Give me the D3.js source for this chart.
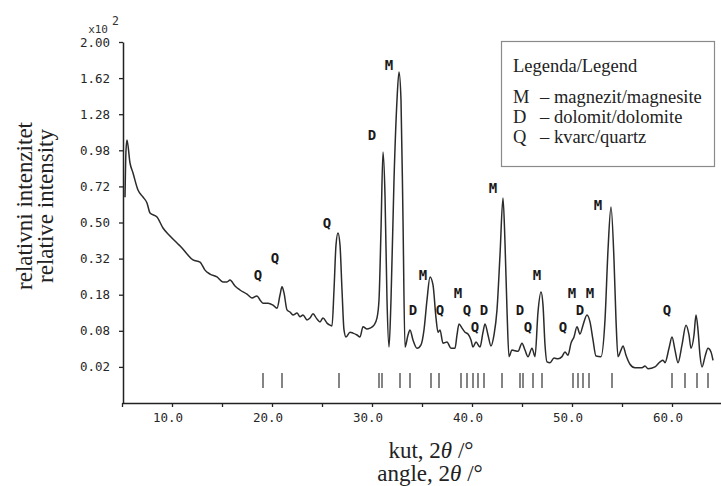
<!DOCTYPE html>
<html><head><meta charset="utf-8">
<script src="https://cdn.jsdelivr.net/npm/d3@7"></script>
<style>
html,body{margin:0;padding:0;background:#fff;}
svg{display:block;}
</style></head>
<body>
<svg id="chart" width="721" height="486"></svg>
<script>
// ---- data (2θ in degrees, relative intensity ×10²) ----
const twoTheta = [5.3,5.4,5.5,5.8,6.1,6.6,7.1,7.5,7.8,8.5,9.1,9.8,10.5,11.0,11.5,12.1,12.8,13.3,13.8,14.5,15.1,15.5,15.8,16.3,16.8,17.5,18.0,18.5,18.8,19.1,19.6,20.1,20.5,20.8,21.0,21.2,21.5,21.8,22.1,22.5,22.8,23.1,23.5,23.8,24.1,24.5,24.8,25.1,25.5,25.8,26.0,26.2,26.4,26.6,26.8,27.0,27.2,27.4,27.8,28.1,28.5,28.8,29.1,29.5,29.8,30.2,30.5,30.7,30.9,31.1,31.3,31.5,31.7,31.9,32.2,32.5,32.7,32.9,33.1,33.3,33.6,33.8,34.1,34.5,34.9,35.2,35.5,35.8,36.1,36.4,36.6,36.8,37.1,37.5,37.9,38.3,38.5,38.7,39.0,39.3,39.6,39.9,40.1,40.4,40.8,41.1,41.3,41.6,41.9,42.2,42.5,42.8,43.1,43.3,43.5,43.7,44.0,44.3,44.6,45.0,45.3,45.6,46.0,46.3,46.6,46.9,47.1,47.3,47.5,47.8,48.2,48.6,49.0,49.3,49.6,49.9,50.2,50.5,50.8,51.1,51.5,51.8,52.1,52.4,52.9,53.3,53.6,53.9,54.2,54.4,54.6,54.9,55.1,55.4,55.8,56.3,57.0,57.3,57.6,58.3,58.8,59.1,59.3,59.7,60.0,60.3,60.6,61.0,61.4,61.7,61.9,62.2,62.4,62.6,62.8,63.0,63.3,63.6,63.9,64.1];
const intensity = [0.65,0.98,1.061,0.884,0.812,0.696,0.651,0.614,0.554,0.531,0.470,0.428,0.393,0.369,0.341,0.314,0.305,0.271,0.255,0.244,0.225,0.225,0.232,0.210,0.196,0.182,0.169,0.176,0.163,0.153,0.153,0.147,0.138,0.179,0.207,0.186,0.133,0.127,0.119,0.124,0.114,0.119,0.106,0.111,0.122,0.108,0.101,0.111,0.098,0.093,0.091,0.196,0.383,0.443,0.383,0.196,0.082,0.067,0.077,0.075,0.071,0.067,0.089,0.084,0.086,0.093,0.111,0.163,0.459,0.967,0.664,0.163,0.048,0.163,0.763,1.409,1.681,1.409,0.514,0.048,0.071,0.082,0.061,0.046,0.052,0.082,0.163,0.244,0.214,0.111,0.077,0.082,0.055,0.057,0.046,0.046,0.071,0.096,0.086,0.077,0.073,0.061,0.048,0.057,0.048,0.077,0.096,0.071,0.050,0.071,0.133,0.336,0.645,0.393,0.133,0.033,0.043,0.042,0.041,0.055,0.043,0.033,0.046,0.033,0.127,0.189,0.147,0.052,0.026,0.025,0.031,0.030,0.033,0.040,0.035,0.055,0.067,0.089,0.073,0.093,0.119,0.101,0.061,0.034,0.033,0.106,0.359,0.589,0.314,0.106,0.033,0.043,0.050,0.035,0.023,0.019,0.019,0.021,0.018,0.020,0.026,0.028,0.025,0.046,0.067,0.043,0.025,0.052,0.093,0.071,0.046,0.071,0.119,0.082,0.035,0.020,0.033,0.046,0.040,0.028];

// phase annotations
const phaseLabels = ["Q","Q","Q","D","M","D","M","Q","M","Q","Q","D","M","D","Q","M","Q","M","D","M","M","Q"];
const labelTheta  = [18.6,20.3,25.5,30.0,31.7,34.1,35.1,36.8,38.6,39.5,40.3,41.2,42.1,44.8,45.6,46.5,49.1,50.0,50.8,51.8,52.6,59.5];
const labelInt    = [0.251,0.323,0.497,1.102,1.753,0.133,0.251,0.133,0.186,0.133,0.089,0.133,0.709,0.133,0.089,0.251,0.089,0.186,0.133,0.186,0.602,0.133];

// reference line positions (2θ)
const stickTheta = [19.1,21.0,26.7,30.7,31.0,32.8,33.8,35.9,36.7,38.9,39.5,40.1,40.6,41.2,43.0,44.8,45.1,46.1,47.0,50.1,50.6,51.1,51.7,54.0,60.0,61.3,62.5,63.6];
const stickSpan = [0.0035, 0.0138];

// axes
const yTicks = [0.02,0.08,0.18,0.32,0.50,0.72,0.98,1.28,1.62,2.00];
const xTicks = [5,10,15,20,25,30,35,40,45,50,55,60,65];
const xLabeled = [10,20,30,40,50,60];

const legendTitle = "Legenda/Legend";
const legendKeys = ["M","D","Q"];
const legendTexts = ["– magnezit/magnesite","– dolomit/dolomite","– kvarc/quartz"];

// ---- drawing ----
const svg = d3.select("#chart");
const x = d3.scaleLinear().domain([5,65]).range([122,722]);
const y = d3.scaleSqrt().domain([0,2]).range([403,42]);
const ink = "#222";

// curve
const pts = twoTheta.map((t,i)=>[t,intensity[i]]);
svg.append("path")
  .attr("d", d3.line().x(d=>x(d[0])).y(d=>y(d[1])).curve(d3.curveMonotoneX)(pts))
  .attr("fill","none").attr("stroke","#2b2b2b").attr("stroke-width",1.5)
  .attr("stroke-linejoin","round");

// sticks
svg.append("g").selectAll("line").data(stickTheta).join("line")
  .attr("x1",d=>x(d)).attr("x2",d=>x(d))
  .attr("y1",y(stickSpan[0])).attr("y2",y(stickSpan[1]))
  .attr("stroke","#333").attr("stroke-width",1.2);

// phase labels
svg.append("g").selectAll("text").data(phaseLabels).join("text")
  .attr("x",(d,i)=>x(labelTheta[i])).attr("y",(d,i)=>y(labelInt[i]))
  .attr("dy","0.37em").attr("text-anchor","middle")
  .attr("font-family","'DejaVu Sans Mono', monospace").attr("font-weight","bold")
  .attr("font-size",14).attr("fill","#1a1a1a")
  .text(d=>d);

// y axis
const gy = svg.append("g").attr("transform","translate(123,0)")
  .call(d3.axisLeft(y).tickValues(yTicks).tickSize(4).tickSizeOuter(0).tickFormat(d3.format(".2f")));
gy.select(".domain").attr("stroke",ink).attr("stroke-width",1.5);
gy.selectAll(".tick line").attr("stroke",ink).attr("stroke-width",1.3);
gy.selectAll(".tick text").attr("x",-13).attr("font-family","'DejaVu Sans Mono', monospace")
  .attr("font-size",12.5).attr("fill","#262626");

// x axis
const gx = svg.append("g").attr("transform","translate(0,403)")
  .call(d3.axisBottom(x).tickValues(xTicks).tickSize(4).tickSizeOuter(0)
    .tickFormat(d=> xLabeled.includes(d) ? d3.format(".1f")(d) : ""));
gx.select(".domain").attr("stroke",ink).attr("stroke-width",1.6);
gx.selectAll(".tick line").attr("stroke",ink).attr("stroke-width",1.3);
gx.selectAll(".tick text").attr("y",19).attr("dy",0).attr("dx",-4.5)
  .attr("font-family","'DejaVu Sans Mono', monospace").attr("font-size",12.5).attr("fill","#262626");

// x10^2
svg.append("text").attr("x",108).attr("y",33).attr("text-anchor","end")
  .attr("font-family","'DejaVu Sans Mono', monospace").attr("font-size",11).attr("fill","#333")
  .text("x10");
svg.append("text").attr("x",112).attr("y",25)
  .attr("font-family","'DejaVu Sans Mono', monospace").attr("font-size",11.5).attr("fill","#333")
  .text("2");

// y title
const serif = "'Liberation Serif','Times New Roman',serif";
const yt = svg.append("g").attr("font-family",serif).attr("font-size",23).attr("fill","#222").attr("text-anchor","middle");
yt.append("text").attr("transform","translate(32,206) rotate(-90)").text("relativni intenzitet");
yt.append("text").attr("transform","translate(53,206) rotate(-90)").text("relative intensity");

// x title
const xt = svg.append("g").attr("font-family",serif).attr("font-size",23).attr("fill","#222").attr("text-anchor","middle");
const l1 = xt.append("text").attr("x",431).attr("y",458);
l1.append("tspan").text("kut, 2");
l1.append("tspan").attr("font-style","italic").text("θ");
l1.append("tspan").text(" /°");
const l2 = xt.append("text").attr("x",430).attr("y",481);
l2.append("tspan").text("angle, 2");
l2.append("tspan").attr("font-style","italic").text("θ");
l2.append("tspan").text(" /°");

// legend
const lg = svg.append("g").attr("font-family",serif).attr("font-size",18.5).attr("fill","#222");
lg.append("rect").attr("x",501.5).attr("y",41.5).attr("width",213).attr("height",125)
  .attr("fill","#fff").attr("stroke","#8a8a8a").attr("stroke-width",1.2);
lg.append("text").attr("x",513).attr("y",72).text(legendTitle);
legendKeys.forEach((k,i)=>{
  lg.append("text").attr("x",513).attr("y",103+i*20).text(k);
  lg.append("text").attr("x",540).attr("y",103+i*20).text(legendTexts[i]);
});
</script>
</body></html>
